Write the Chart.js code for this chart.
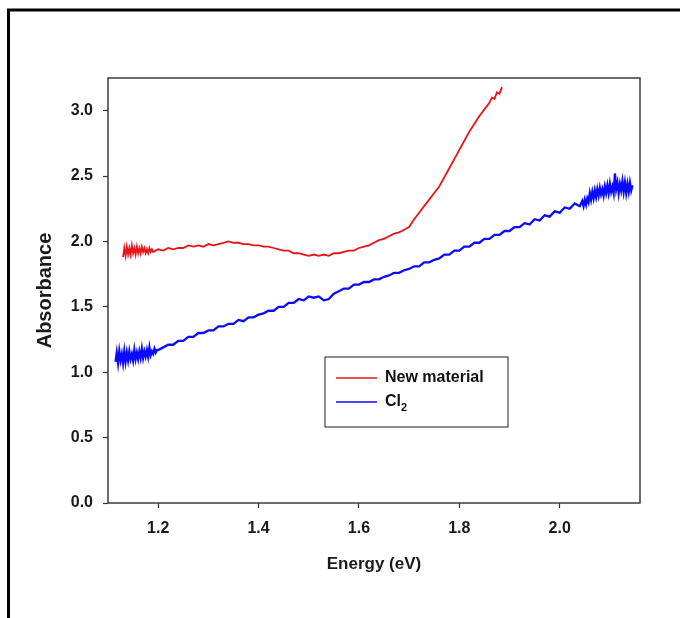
<!DOCTYPE html>
<html>
<head>
<meta charset="utf-8">
<script src="https://cdn.jsdelivr.net/npm/chart.js@4"></script>
<style>
html,body{margin:0;padding:0;background:#fff;}
#wrap{width:680px;height:618px;position:relative;}
</style>
</head>
<body>
<div id="wrap"><canvas id="c" width="680" height="618"></canvas></div>
<script>
// ---- data ----
const seriesNames = ['New material', 'Cl', '2'];
const xTickValues = [1.2, 1.4, 1.6, 1.8, 2.0];
const yTickValues = [0.0, 0.5, 1.0, 1.5, 2.0, 2.5, 3.0];
const xTitle = 'Energy (eV)';
const yTitle = 'Absorbance';

const redEnergy = [1.13,1.1325,1.135,1.1375,1.14,1.1425,1.145,1.1475,1.15,1.1525,1.155,1.1575,1.16,1.1625,1.165,1.1675,1.17,1.1725,1.175,1.1775,1.18,1.1825,1.185,1.1875,1.19,
  1.20,1.21,1.22,1.23,1.24,1.25,1.26,1.27,1.28,1.29,1.30,1.31,1.32,1.33,1.34,1.35,1.36,1.37,1.38,1.39,1.40,1.41,1.42,1.43,1.44,1.45,1.46,1.47,1.48,1.49,1.50,1.51,1.52,1.53,1.54,1.55,1.56,1.57,1.58,1.59,1.60,1.61,1.62,1.63,1.64,1.65,1.66,1.67,1.68,1.69,1.70,1.71,1.72,1.73,1.74,1.75,1.76,1.77,1.78,1.79,1.80,1.81,1.82,1.83,1.84,1.85,1.86,1.865,1.87,1.875,1.88,1.885];
const redAbs = [1.88,1.95,1.89,1.96,1.90,1.95,1.90,1.97,1.91,1.95,1.90,1.96,1.91,1.95,1.91,1.96,1.92,1.95,1.91,1.94,1.91,1.95,1.92,1.94,1.92,
  1.94,1.93,1.95,1.94,1.95,1.95,1.97,1.96,1.97,1.96,1.98,1.97,1.98,1.99,2.00,1.99,1.99,1.98,1.98,1.97,1.97,1.96,1.96,1.95,1.94,1.93,1.93,1.91,1.91,1.90,1.89,1.90,1.89,1.90,1.89,1.91,1.91,1.92,1.93,1.93,1.95,1.96,1.97,1.99,2.01,2.02,2.04,2.06,2.07,2.09,2.11,2.17,2.22,2.27,2.32,2.37,2.42,2.49,2.56,2.63,2.70,2.77,2.84,2.90,2.96,3.01,3.06,3.10,3.09,3.14,3.13,3.18];

const blueEnergy = [1.115,1.1175,1.12,1.1225,1.125,1.1275,1.13,1.1325,1.135,1.1375,1.14,1.1425,1.145,1.1475,1.15,1.1525,1.155,1.1575,1.16,1.1625,1.165,1.1675,1.17,1.1725,1.175,1.1775,1.18,1.1825,1.185,1.1875,1.19,1.1925,1.195,1.1975,1.20,
  1.21,1.22,1.23,1.24,1.25,1.26,1.27,1.28,1.29,1.30,1.31,1.32,1.33,1.34,1.35,1.36,1.37,1.38,1.39,1.40,1.41,1.42,1.43,1.44,1.45,1.46,1.47,1.48,1.49,1.50,1.51,1.52,1.53,1.54,1.55,1.56,1.57,1.58,1.59,1.60,1.61,1.62,1.63,1.64,1.65,1.66,1.67,1.68,1.69,1.70,1.71,1.72,1.73,1.74,1.75,1.76,1.77,1.78,1.79,1.80,1.81,1.82,1.83,1.84,1.85,1.86,1.87,1.88,1.89,1.90,1.91,1.92,1.93,1.94,1.95,1.96,1.97,1.98,1.99,2.00,2.01,2.02,2.03,2.04,
  2.045,2.0475,2.05,2.0525,2.055,2.0575,2.06,2.0625,2.065,2.0675,2.07,2.0725,2.075,2.0775,2.08,2.0825,2.085,2.0875,2.09,2.0925,2.095,2.0975,2.10,2.1025,2.105,2.1075,2.11,2.1125,2.115,2.1175,2.12,2.1225,2.125,2.1275,2.13,2.1325,2.135,2.1375,2.14,2.1425,2.145];
const blueAbs = [1.08,1.15,1.07,1.16,1.09,1.14,1.07,1.16,1.08,1.15,1.09,1.16,1.10,1.14,1.09,1.17,1.10,1.15,1.10,1.16,1.11,1.18,1.11,1.16,1.12,1.17,1.12,1.19,1.13,1.16,1.14,1.18,1.15,1.17,1.17,
  1.19,1.21,1.21,1.24,1.24,1.27,1.27,1.30,1.30,1.32,1.32,1.35,1.35,1.37,1.37,1.40,1.39,1.42,1.42,1.44,1.45,1.47,1.47,1.50,1.50,1.53,1.53,1.56,1.55,1.58,1.57,1.58,1.55,1.56,1.60,1.62,1.64,1.64,1.67,1.67,1.69,1.69,1.71,1.71,1.73,1.74,1.76,1.76,1.78,1.79,1.81,1.81,1.84,1.84,1.86,1.87,1.90,1.90,1.93,1.93,1.96,1.96,1.99,1.99,2.02,2.02,2.05,2.05,2.08,2.08,2.11,2.11,2.14,2.13,2.17,2.16,2.20,2.19,2.23,2.22,2.26,2.25,2.29,2.27,
  2.31,2.27,2.32,2.28,2.33,2.30,2.37,2.32,2.38,2.33,2.39,2.34,2.40,2.35,2.41,2.36,2.40,2.35,2.42,2.37,2.43,2.37,2.44,2.38,2.42,2.37,2.52,2.40,2.45,2.37,2.44,2.39,2.46,2.38,2.45,2.37,2.44,2.38,2.45,2.39,2.43];

const pts = (xs, ys) => xs.map((x, i) => ({x: x, y: ys[i]}));

const FONT = '"Liberation Sans", Arial, sans-serif';

const framePlugin = {
  id: 'frame',
  beforeDraw(chart) {
    const ctx = chart.ctx;
    ctx.save();
    ctx.fillStyle = '#fff';
    ctx.fillRect(0, 0, chart.width, chart.height);
    // outer figure border (left & top)
    ctx.strokeStyle = '#000';
    ctx.lineWidth = 3;
    ctx.beginPath();
    ctx.moveTo(8.5, chart.height + 5);
    ctx.lineTo(8.5, 10);
    ctx.lineTo(chart.width + 5, 10);
    ctx.stroke();
    ctx.restore();
  },
  afterDatasetsDraw(chart) {
    const {ctx, chartArea: a} = chart;
    ctx.save();
    ctx.strokeStyle = '#3c3c3c';
    ctx.lineWidth = 1.5;
    ctx.strokeRect(a.left, a.top, a.right - a.left, a.bottom - a.top);
    // legend box
    const bx = a.left + 217, by = a.top + 279, bw = 183, bh = 70;
    ctx.fillStyle = '#fff';
    ctx.fillRect(bx, by, bw, bh);
    ctx.lineWidth = 1.2;
    ctx.strokeStyle = '#444';
    ctx.strokeRect(bx, by, bw, bh);
    const ds = chart.data.datasets;
    const rows = [by + 21, by + 45];
    ctx.lineWidth = 1.5;
    for (let i = 0; i < 2; i++) {
      ctx.strokeStyle = ds[i].borderColor;
      ctx.beginPath();
      ctx.moveTo(bx + 11, rows[i]);
      ctx.lineTo(bx + 52, rows[i]);
      ctx.stroke();
    }
    ctx.fillStyle = '#111';
    ctx.textBaseline = 'middle';
    ctx.textAlign = 'left';
    ctx.font = 'bold 16px ' + FONT;
    ctx.fillText(seriesNames[0], bx + 60, rows[0]);
    ctx.fillText(seriesNames[1], bx + 60, rows[1]);
    const w = ctx.measureText(seriesNames[1]).width;
    ctx.font = 'bold 11px ' + FONT;
    ctx.fillText(seriesNames[2], bx + 60 + w, rows[1] + 6);
    ctx.restore();
  }
};

new Chart(document.getElementById('c'), {
  type: 'scatter',
  data: {
    datasets: [
      {label: seriesNames[0], data: pts(redEnergy, redAbs), showLine: true, borderColor: '#e8141a', borderWidth: 1.8, pointRadius: 0, tension: 0},
      {label: seriesNames[1] + seriesNames[2], data: pts(blueEnergy, blueAbs), showLine: true, borderColor: '#0a0aff', borderWidth: 2.3, pointRadius: 0, tension: 0}
    ]
  },
  options: {
    responsive: false,
    animation: false,
    layout: {padding: {left: 0, top: 78, right: 40, bottom: 0}},
    plugins: {legend: {display: false}, tooltip: {enabled: false}},
    scales: {
      x: {
        type: 'linear', min: 1.1, max: 2.16,
        afterFit(s) { s.height = 115; },
        afterBuildTicks(s) { s.ticks = xTickValues.map(v => ({value: v})); },
        grid: {drawOnChartArea: false, drawTicks: true, tickLength: 5, tickColor: '#333', tickWidth: 1.2},
        border: {display: false},
        ticks: {color: '#1a1a1a', font: {family: FONT, size: 16, weight: 'bold'}, padding: 11, maxRotation: 0,
          callback: v => Number(v).toFixed(1)},
        title: {display: true, text: xTitle, color: '#1a1a1a', font: {family: FONT, size: 17, weight: 'bold'}, padding: {top: 0, bottom: 43}}
      },
      y: {
        type: 'linear', min: 0, max: 3.25,
        afterFit(s) { s.width = 108; },
        afterBuildTicks(s) { s.ticks = yTickValues.map(v => ({value: v})); },
        grid: {drawOnChartArea: false, drawTicks: true, tickLength: 5, tickColor: '#333', tickWidth: 1.2},
        border: {display: false},
        ticks: {color: '#1a1a1a', font: {family: FONT, size: 16, weight: 'bold'}, padding: 10,
          callback: v => Number(v).toFixed(1)},
        title: {display: true, text: yTitle, color: '#1a1a1a', font: {family: FONT, size: 20, weight: 'bold'}, padding: {top: 33, bottom: 0}}
      }
    }
  },
  plugins: [framePlugin]
});
</script>
</body>
</html>
